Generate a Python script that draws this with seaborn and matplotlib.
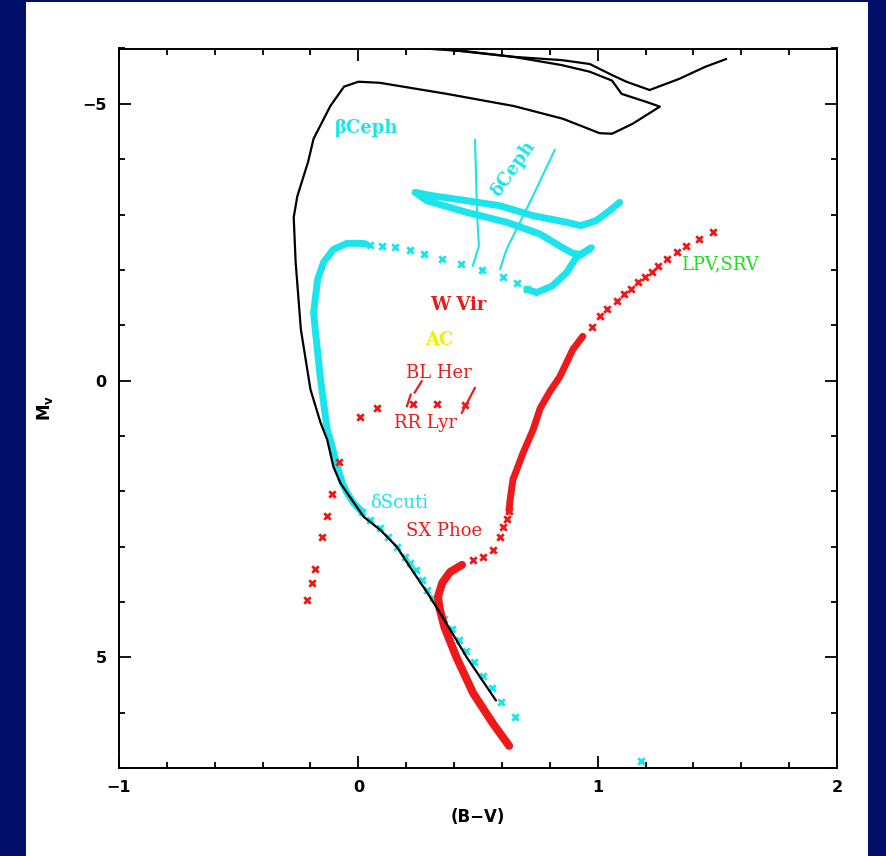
import matplotlib
matplotlib.use("Agg")
import matplotlib.pyplot as plt
from matplotlib.patches import Rectangle
from matplotlib.ticker import MultipleLocator
import pandas as pd
import seaborn as sns

# ---------------- data: (B-V) colour index and absolute magnitude M_v ----------------
# massive-star evolutionary track (upper), ends at top of panel
track_hi_bv = [0.204, 0.45, 0.646, 0.85, 0.967, 1.06, 1.12, 1.217, 1.34, 1.45, 1.537]
track_hi_mv = [-6.02, -5.95, -5.85, -5.79, -5.72, -5.52, -5.40, -5.25, -5.45, -5.67, -5.81]

# envelope track: upper supergiant loop, hot edge and main sequence
track_env_bv = [0.37, 0.646, 0.85, 0.967, 1.06, 1.10, 1.20, 1.26, 1.146, 1.06, 1.008,
                0.855, 0.65, 0.37, 0.09, 0.0, -0.06, -0.117, -0.187, -0.21, -0.255,
                -0.27, -0.262, -0.24, -0.20, -0.158, -0.13, -0.104, -0.075, -0.047,
                0.022, 0.092, 0.16, 0.23, 0.286, 0.342, 0.453, 0.575]
track_env_mv = [-5.98, -5.85, -5.70, -5.58, -5.42, -5.18, -5.04, -4.95, -4.64, -4.46, -4.47,
                -4.73, -4.96, -5.18, -5.38, -5.40, -5.31, -4.96, -4.37, -3.95, -3.33,
                -2.95, -2.14, -0.92, 0.16, 0.76, 1.07, 1.56, 1.85, 2.03,
                2.46, 2.70, 3.00, 3.46, 3.82, 4.20, 5.00, 5.78]

# intermediate-mass track: sparse main-sequence models
ms_pts_bv = [0.654, 0.596, 0.558, 0.52, 0.483, 0.45, 0.42, 0.39, 0.36, 0.335, 0.31,
             0.287, 0.266, 0.24, 0.217, 0.196, 0.16, 0.125, 0.092, 0.05, 0.016]
ms_pts_mv = [6.07, 5.80, 5.56, 5.33, 5.09, 4.89, 4.68, 4.48, 4.30, 4.10, 3.93,
             3.78, 3.60, 3.42, 3.30, 3.18, 3.00, 2.83, 2.66, 2.52, 2.37]
# dense part up to the hook
ms_band_bv = [0.016, -0.02, -0.047, -0.067, -0.088, -0.117, -0.13, -0.158, -0.18, -0.187,
              -0.17, -0.145, -0.104, -0.047, 0.008, 0.03]
ms_band_mv = [2.37, 2.21, 2.03, 1.85, 1.55, 1.07, 0.89, -0.02, -0.92, -1.23,
              -1.83, -2.14, -2.37, -2.48, -2.48, -2.47]
# Hertzsprung-gap crossing
gap_bv = [0.05, 0.10, 0.154, 0.217, 0.275, 0.35, 0.43, 0.517, 0.604, 0.662, 0.704]
gap_mv = [-2.45, -2.43, -2.41, -2.36, -2.28, -2.19, -2.10, -1.99, -1.88, -1.76, -1.65]
# giant branch and blue loop
loop_bv = [0.704, 0.745, 0.81, 0.87, 0.91, 0.974, 0.93, 0.896, 0.842, 0.758, 0.62,
           0.453, 0.286, 0.237, 0.31, 0.453, 0.59, 0.73, 0.87, 0.93, 0.994, 1.05, 1.092]
loop_mv = [-1.65, -1.59, -1.71, -1.95, -2.22, -2.40, -2.28, -2.30, -2.43, -2.65, -2.86,
           -3.04, -3.25, -3.40, -3.34, -3.25, -3.16, -2.98, -2.86, -2.80, -2.89, -3.07, -3.22]
extra_pt_bv = [1.18]
extra_pt_mv = [6.88]

# Cepheid instability strip edges
strip_blue_bv = [0.4875, 0.497, 0.504, 0.478]
strip_blue_mv = [-4.35, -2.92, -2.43, -2.07]
strip_red_bv = [0.821, 0.73, 0.619, 0.592]
strip_red_mv = [-4.17, -3.34, -2.37, -2.01]

# low-mass track (red): main sequence, subgiant and giant branch
lm_ms_bv = [0.63, 0.563, 0.48, 0.41, 0.36, 0.338, 0.333, 0.35, 0.383, 0.433]
lm_ms_mv = [6.60, 6.20, 5.65, 5.00, 4.46, 4.09, 3.90, 3.66, 3.46, 3.33]
lm_sg_bv = [0.48, 0.52, 0.563, 0.592, 0.604, 0.62, 0.63]
lm_sg_mv = [3.24, 3.18, 3.06, 2.82, 2.64, 2.50, 2.36]
lm_rgb_bv = [0.63, 0.633, 0.646, 0.688, 0.73, 0.76, 0.80, 0.842, 0.896, 0.938]
lm_rgb_mv = [2.36, 2.19, 1.79, 1.31, 0.89, 0.50, 0.20, -0.07, -0.56, -0.80]
lm_tip_bv = [0.975, 1.008, 1.04, 1.08, 1.11, 1.14, 1.167, 1.196, 1.225, 1.254,
             1.29, 1.33, 1.37, 1.425, 1.48]
lm_tip_mv = [-0.96, -1.16, -1.29, -1.43, -1.56, -1.65, -1.79, -1.88, -1.97, -2.07,
             -2.19, -2.32, -2.43, -2.55, -2.69]

# blue stragglers / SX Phe sequence and horizontal branch stars
sxphe_bv = [-0.079, -0.112, -0.13, -0.15, -0.183, -0.192, -0.213]
sxphe_mv = [1.47, 2.05, 2.45, 2.82, 3.41, 3.66, 3.97]
hb_bv = [0.008, 0.08, 0.23, 0.33, 0.446]
hb_mv = [0.66, 0.49, 0.43, 0.43, 0.45]

# pointer strokes next to BL Her / RR Lyr
pointer_bv = [[0.203, 0.219], [0.235, 0.265], [0.432, 0.4875]]
pointer_mv = [[0.465, 0.25], [0.22, 0.01], [0.585, 0.13]]

# class labels: text, bv, mv, colour, weight
labels = [
    ("\u03b2Ceph", -0.10, -4.57, "cyan", "bold"),
    ("W Vir", 0.30, -1.36, "red", "bold"),
    ("AC", 0.28, -0.74, "yellow", "bold"),
    ("BL Her", 0.20, -0.14, "red", "normal"),
    ("RR Lyr", 0.15, 0.76, "red", "normal"),
    ("\u03b4Scuti", 0.05, 2.21, "cyan", "normal"),
    ("SX Phoe", 0.20, 2.72, "red", "normal"),
    ("LPV,SRV", 1.35, -2.10, "green", "normal"),
]

# ---------------- styling ----------------
NAVY = "#02106a"
COLORS = {"cyan": "#1be4ec", "red": "#ee1a1a", "green": "#22dc22",
          "yellow": "#f0f000", "black": "#000000"}

sns.set_theme(style="ticks")
plt.rcParams["font.family"] = ["DejaVu Sans"]

fig = plt.figure(figsize=(8.87, 8.56), dpi=100, facecolor=NAVY)
fig.patches.append(Rectangle((26 / 887, 0), (868 - 26) / 887, 1 - 2 / 856,
                             transform=fig.transFigure, facecolor="white",
                             edgecolor="none", zorder=-1))
ax = fig.add_axes([119 / 887, 1 - 768 / 856, (837 - 119) / 887, (768 - 48.5) / 856])
ax.set_facecolor("white")


def path(bv, mv, color, lw, z=2):
    df = pd.DataFrame({"bv": bv, "mv": mv})
    sns.lineplot(data=df, x="bv", y="mv", sort=False, estimator=None, ax=ax,
                 color=color, lw=lw, zorder=z, solid_capstyle="round",
                 solid_joinstyle="round")


def pts(bv, mv, color, s=22, lw=2.0, z=3):
    df = pd.DataFrame({"bv": bv, "mv": mv})
    sns.scatterplot(data=df, x="bv", y="mv", ax=ax, marker="x", s=s, color=color,
                    linewidth=lw, zorder=z)


# black evolutionary tracks
path(track_hi_bv, track_hi_mv, COLORS["black"], 1.6)
path(track_env_bv, track_env_mv, COLORS["black"], 1.6, z=4)

# cyan intermediate-mass track
pts(ms_pts_bv, ms_pts_mv, COLORS["cyan"])
path(ms_band_bv, ms_band_mv, COLORS["cyan"], 5.0)
pts(gap_bv, gap_mv, COLORS["cyan"])
path(loop_bv, loop_mv, COLORS["cyan"], 5.0)
pts(extra_pt_bv, extra_pt_mv, COLORS["cyan"])
path(strip_blue_bv, strip_blue_mv, COLORS["cyan"], 1.5)
path(strip_red_bv, strip_red_mv, COLORS["cyan"], 1.5)

# red low-mass track
path(lm_ms_bv, lm_ms_mv, COLORS["red"], 5.8, z=3)
pts(lm_sg_bv, lm_sg_mv, COLORS["red"])
path(lm_rgb_bv, lm_rgb_mv, COLORS["red"], 5.0, z=3)
pts(lm_tip_bv, lm_tip_mv, COLORS["red"])
pts(sxphe_bv, sxphe_mv, COLORS["red"])
pts(hb_bv, hb_mv, COLORS["red"])
for xb, ym in zip(pointer_bv, pointer_mv):
    ax.plot(xb, ym, color=COLORS["red"], lw=1.6)

# labels
serif = ["DejaVu Serif"]
for text, xb, ym, c, w in labels:
    ax.text(xb, ym, text, color=COLORS[c], fontsize=13, fontweight=w,
            family=serif, ha="left", va="center", zorder=6)
ax.text(0.647, -3.82, "\u03b4Ceph", color=COLORS["cyan"], fontsize=13,
        fontweight="bold", family=serif, rotation=55, ha="center", va="center",
        rotation_mode="anchor", zorder=6)

# axes
ax.set_xlim(-1, 2)
ax.set_ylim(7, -6)
ax.xaxis.set_major_locator(MultipleLocator(1))
ax.xaxis.set_minor_locator(MultipleLocator(0.2))
ax.yaxis.set_major_locator(MultipleLocator(5))
ax.yaxis.set_minor_locator(MultipleLocator(1))
ax.tick_params(which="both", direction="in", top=True, right=True,
               width=1.3, colors="black", labelsize=11.5)
ax.tick_params(which="major", length=8.6, pad=9)
ax.tick_params(which="minor", length=4.6)
for lab in ax.get_xticklabels() + ax.get_yticklabels():
    lab.set_fontweight("bold")
for sp in ax.spines.values():
    sp.set_linewidth(1.4)
    sp.set_color("black")
    sp.set_visible(True)

ax.set_xlabel("(B\u2212V)", fontsize=12, fontweight="bold", va="center", color="black")
ax.xaxis.set_label_coords(0.5, -(817 - 768) / 719.5)
ax.set_ylabel(r"M$_{\mathbf{v}}$", fontsize=12, fontweight="bold", va="center",
              rotation=90, color="black")
ax.yaxis.set_label_coords((45 - 119) / 718, 0.5)

fig.savefig("out.png", dpi=100, facecolor=NAVY)
